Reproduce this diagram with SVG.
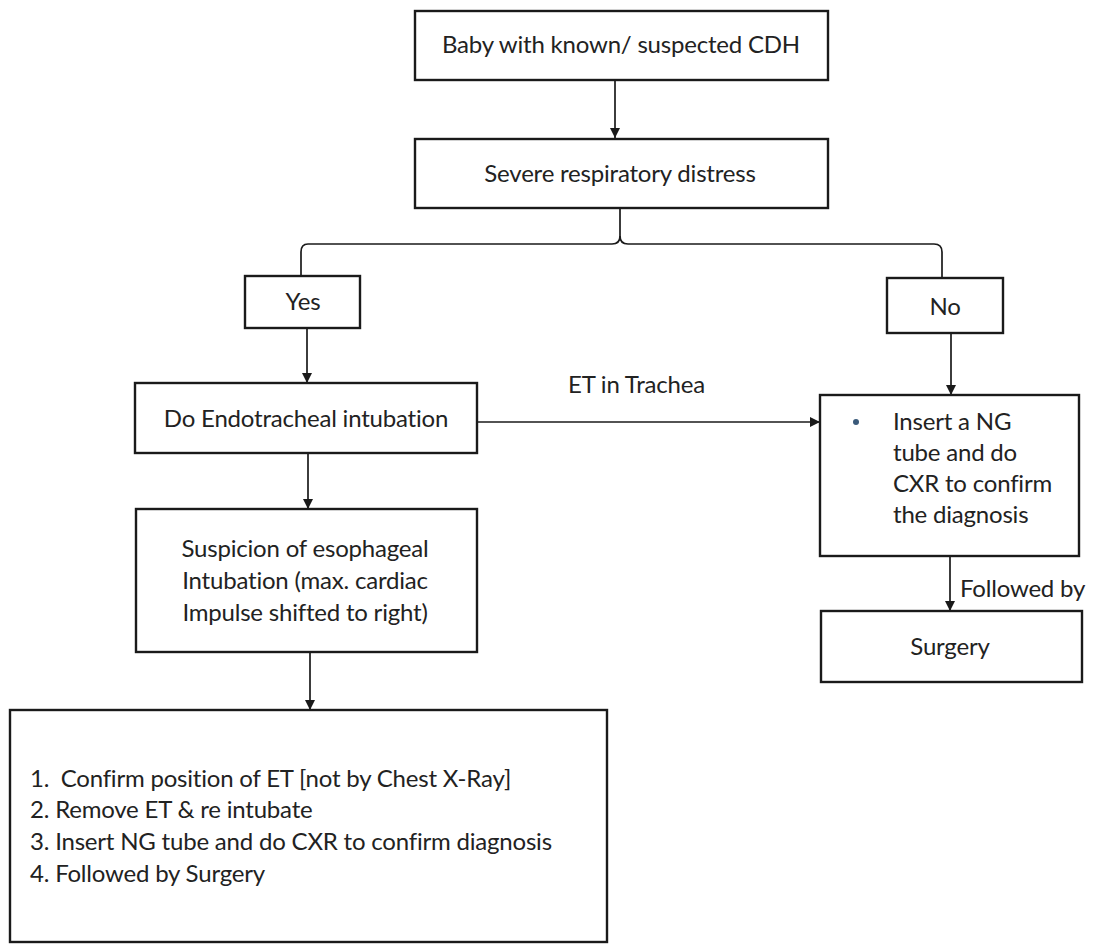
<svg xmlns="http://www.w3.org/2000/svg" width="1093" height="945" viewBox="0 0 1093 945">
  <style>
    .box { fill: #ffffff; stroke: #1a1a1a; stroke-width: 2.4; }
    .t { font-family: Lato, "Open Sans", "Liberation Sans", sans-serif; font-size: 24px; fill: #222222; letter-spacing: -0.2px; }
    .c { text-anchor: middle; }
    .wire { fill: none; stroke: #1a1a1a; stroke-width: 1.7; }
  </style>
  <defs>
    <marker id="arrow" viewBox="0 0 10 10" refX="10" refY="5" markerWidth="10" markerHeight="10" markerUnits="userSpaceOnUse" orient="auto">
      <path d="M0,0 L10,5 L0,10 Z" fill="#1a1a1a"/>
    </marker>
  </defs>
  <rect width="1093" height="945" fill="#ffffff"/>

  <!-- connectors -->
  <g id="connectors">
    <line class="wire" x1="615" y1="80" x2="615" y2="138" marker-end="url(#arrow)"/>
    <!-- branch brace from the distress box to Yes / No -->
    <path class="wire" d="M620,208 L620,236 Q620,244 612,244 L308,244 Q301,244 301,252 L301,276"/>
    <path class="wire" d="M620,236 Q620,244 628,244 L934,244 Q942,244 942,252 L942,278"/>
    <line class="wire" x1="307" y1="328" x2="307" y2="383" marker-end="url(#arrow)"/>
    <line class="wire" x1="951" y1="333" x2="951" y2="395" marker-end="url(#arrow)"/>
    <line class="wire" x1="477" y1="422" x2="820" y2="422" marker-end="url(#arrow)"/>
    <line class="wire" x1="308" y1="453" x2="308" y2="509" marker-end="url(#arrow)"/>
    <line class="wire" x1="310" y1="652" x2="310" y2="710" marker-end="url(#arrow)"/>
    <line class="wire" x1="950" y1="556" x2="950" y2="611" marker-end="url(#arrow)"/>
    <text class="t" x="568" y="393">ET in Trachea</text>
    <text class="t" x="960" y="597">Followed by</text>
  </g>

  <g id="baby">
    <rect class="box" x="415" y="11" width="413" height="69"/>
    <text class="t c" x="621" y="53">Baby with known/ suspected CDH</text>
  </g>

  <g id="distress">
    <rect class="box" x="415" y="139" width="413" height="69"/>
    <text class="t c" x="620" y="182">Severe respiratory distress</text>
  </g>

  <g id="yes">
    <rect class="box" x="245" y="276" width="115" height="52"/>
    <text class="t c" x="303" y="310">Yes</text>
  </g>

  <g id="no">
    <rect class="box" x="887" y="278" width="116" height="55"/>
    <text class="t c" x="945" y="315">No</text>
  </g>

  <g id="intubation">
    <rect class="box" x="135" y="383" width="342" height="70"/>
    <text class="t c" x="306" y="427">Do Endotracheal intubation</text>
  </g>

  <g id="ng-tube">
    <rect class="box" x="820" y="395" width="259" height="161"/>
    <circle cx="856" cy="422" r="3" fill="#3a5a7a"/>
    <text class="t" x="893" y="430">Insert a NG</text>
    <text class="t" x="893" y="461">tube and do</text>
    <text class="t" x="893" y="492">CXR to confirm</text>
    <text class="t" x="893" y="523">the diagnosis</text>
  </g>

  <g id="surgery">
    <rect class="box" x="821" y="611" width="261" height="71"/>
    <text class="t c" x="950" y="655">Surgery</text>
  </g>

  <g id="suspicion">
    <rect class="box" x="136" y="509" width="341" height="143"/>
    <text class="t c" x="305" y="557">Suspicion of esophageal</text>
    <text class="t c" x="305" y="589">Intubation (max. cardiac</text>
    <text class="t c" x="305" y="621">Impulse shifted to right)</text>
  </g>

  <g id="steps">
    <rect class="box" x="10" y="710" width="597" height="232"/>
    <text class="t" x="30" y="787">1.<tspan dx="12">Confirm position of ET [not by Chest X-Ray]</tspan></text>
    <text class="t" x="30" y="818">2. Remove ET &amp; re intubate</text>
    <text class="t" x="30" y="850">3. Insert NG tube and do CXR to confirm diagnosis</text>
    <text class="t" x="30" y="882">4. Followed by Surgery</text>
  </g>
</svg>
